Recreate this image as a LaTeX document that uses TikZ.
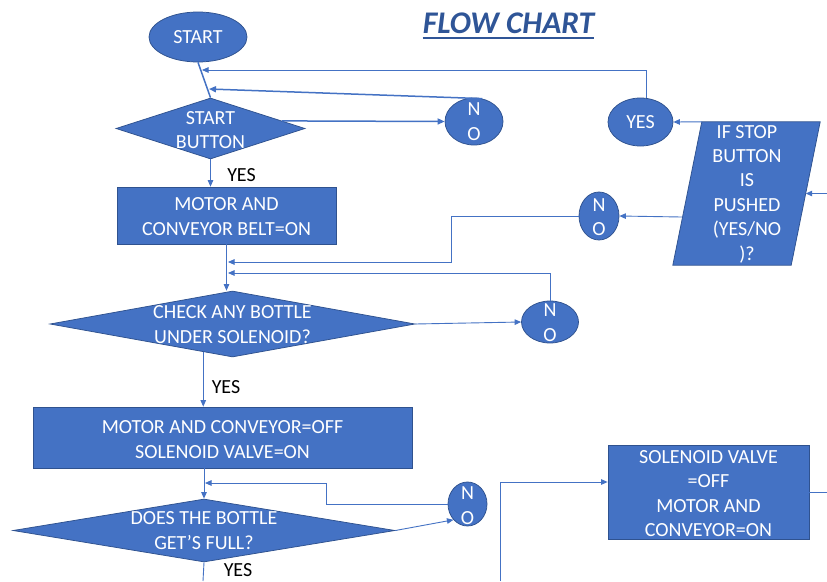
\documentclass[tikz,border=0pt]{standalone}
\usepackage{fontspec}
\setmainfont{Carlito}
\usetikzlibrary{shapes.geometric,arrows.meta,calc}
\definecolor{fillb}{HTML}{4472C4}
\definecolor{edgeb}{HTML}{2F528F}
\definecolor{lineb}{HTML}{4472C4}
\definecolor{titleb}{HTML}{2F5597}
\begin{document}
\begin{tikzpicture}[x=1pt,y=-1pt,
  shapebox/.style={draw=edgeb,fill=fillb,line width=0.75pt,inner sep=0pt},
  ell/.style={shapebox,ellipse},
  dia/.style={shapebox,diamond},
  rbox/.style={shapebox,rectangle},
  wtxt/.style={text=white,inner sep=0pt,align=center,font=\fontsize{20pt}{24.4pt}\selectfont},
  btxt/.style={text=black,inner sep=0pt,font=\fontsize{20pt}{24.4pt}\selectfont},
  wire/.style={draw=lineb,line width=0.9pt},
  conn/.style={wire,-{Triangle[length=6.5pt,width=5.5pt]}},
  thickwire/.style={draw=lineb,line width=1.5pt},
  thickconn/.style={thickwire,-{Triangle[length=7pt,width=6pt]}}
]
\fill[white] (0,0) rectangle (827,581);
\useasboundingbox (0,0) rectangle (827,581);

% title
\node[anchor=base,text=titleb,inner sep=0pt,font=\fontsize{31.5pt}{37pt}\selectfont\bfseries\itshape] (title) at (508.5,33) {FLOW CHART};
\draw[titleb,line width=2.6pt] ([yshift=-5pt]title.base west) -- ([yshift=-5pt]title.base east);

% shapes
\node[ell,minimum width=98pt,minimum height=50pt] (s) at (198,37) {};
\node[wtxt] (st) at (s) {START};

\node[dia,minimum width=189pt,minimum height=61pt] (d1) at (210.5,128.5) {};
\node[wtxt] (d1t) at (210.5,130) {START\\BUTTON};

\node[ell,minimum width=58pt,minimum height=47pt] (no1) at (474,121.5) {};
\node[wtxt] (no1t) at (no1) {N\\O};

\node[rbox,minimum width=219pt,minimum height=57pt] (r1) at (226.5,215.5) {};
\node[wtxt] (r1t) at (226.5,216.5) {MOTOR AND\\CONVEYOR BELT=ON};

\node[dia,minimum width=365pt,minimum height=66pt] (d2) at (232.5,324) {};
\node[wtxt] (d2t) at (232.5,324.5) {CHECK ANY BOTTLE\\UNDER SOLENOID?};

\node[ell,minimum width=57pt,minimum height=42pt] (no3) at (550,322) {};
\node[wtxt] (no3t) at (550,322.5) {N\\O};

\node[rbox,minimum width=379pt,minimum height=61pt] (r3) at (222.5,437.5) {};
\node[wtxt] (r3t) at (222.5,439.5) {MOTOR AND CONVEYOR=OFF\\SOLENOID VALVE=ON};

\node[dia,minimum width=382pt,minimum height=63pt] (d3) at (204,530.5) {};
\node[wtxt] (d3t) at (204,530.5) {DOES THE BOTTLE\\GET’S FULL?};

\node[ell,minimum width=39pt,minimum height=44pt] (no4) at (467.5,504) {};
\node[wtxt] (no4t) at (467.5,505.5) {N\\O};

\node[rbox,minimum width=201pt,minimum height=94pt] (r4) at (708.5,492) {};
\node[wtxt] (r4t) at (708.5,493.5) {SOLENOID VALVE\\=OFF\\MOTOR AND\\CONVEYOR=ON};

\node[ell,minimum width=65pt,minimum height=48pt] (yes) at (640.5,122) {};
\node[wtxt] (yest) at (yes) {YES};

\node[ell,minimum width=40pt,minimum height=48pt] (no2) at (599,216) {};
\node[wtxt] (no2t) at (599,217) {N\\O};

% parallelogram (body node + slanted outline)
\node[draw=none,inner sep=0pt,minimum width=118pt,minimum height=143pt] (p) at (746.5,193.5) {};
\coordinate (ptl) at ([xshift=14.5pt]p.north west);
\coordinate (ptr) at ([xshift=14.5pt]p.north east);
\coordinate (pbr) at ([xshift=-14.5pt]p.south east);
\coordinate (pbl) at ([xshift=-14.5pt]p.south west);
\draw[shapebox] (ptl) -- (ptr) -- (pbr) -- (pbl) -- cycle;
\node[wtxt] (pt) at (747,194) {IF STOP\\BUTTON\\IS\\PUSHED\\(YES/NO\\)?};

% YES labels
\node[btxt] (y1) at (241.5,175) {YES};
\node[btxt] (y2) at (226,387) {YES};
\node[btxt] (y3) at (238,570) {YES};

% junction coordinates
\coordinate (j1) at (202,70);
\coordinate (j2) at (209,89);
\coordinate (j3) at (228,262);
\coordinate (j4) at (228,273);
\coordinate (j5) at (205,483);
\coordinate (b1) at (500,581);
\coordinate (b2) at (203,581);
\coordinate (e1) at (827,492);
\coordinate (e2) at (827,193.5);
\coordinate (k1) at ($(d2.south)!0.16!(d2.west)$);
\coordinate (k2) at ($(d1.north)!0.754!(d1.east)$);
\coordinate (k3) at ($(pbl)!0.336!(ptl)$);

% connectors
\draw[thickwire] (s.south) -- (d1.north);
\draw[conn] (yes.75) |- (j1);
\draw[thickconn] (no1.70) -- (j2);
\draw[thickconn] (k2) -- (no1.west);
\draw[conn] (d1.south) -- (d1.south |- r1.north);
\draw[conn] (r1.south) -- (r1.south |- d2.north);
\draw[conn] (no2.west) -| (451,262) -- (j3);
\draw[conn] (no3.north) |- (j4);
\draw[conn] (d2.east) -- (no3.west);
\draw[conn] (k1) -- (k1 |- r3.north);
\draw[conn] (d3.north |- r3.south) -- (d3.north);
\draw[conn] (no4.west) -| (326,483) -- (j5);
\draw[conn] (d3.east) -- (no4.south west);
\draw[wire] (d3.south) -- (b2);
\draw[conn] (b1) |- ([yshift=10pt]r4.west);
\draw[wire] (r4.east) -- (e1);
\draw[conn] (e2) -- (p.east);
\draw[conn] (ptl) -- (yes.east);
\draw[conn] (k3) -- (no2.east);
\end{tikzpicture}
\end{document}
